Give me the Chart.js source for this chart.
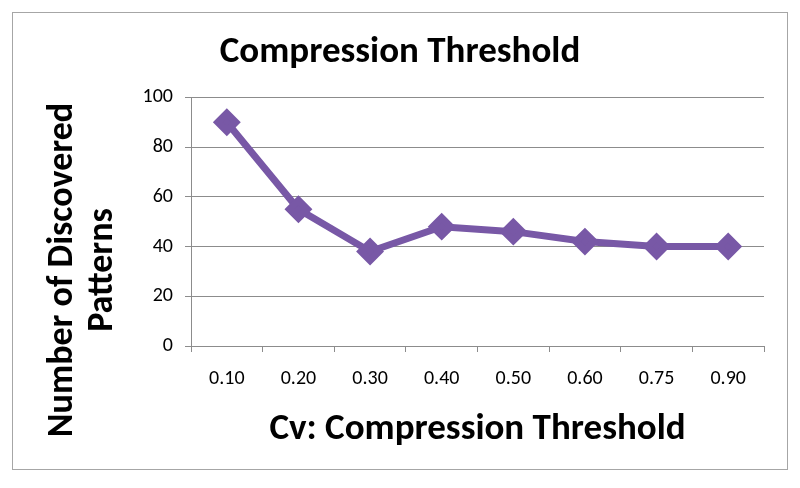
<!DOCTYPE html>
<html lang="en">
<head>
    <meta charset="UTF-8">
    <title>Compression Threshold</title>
    <script src="https://cdn.jsdelivr.net/npm/chart.js@4.4.1/dist/chart.umd.min.js"></script>
    <style>
        html, body { margin: 0; padding: 0; background: #fff; }
        .wrap { width: 800px; height: 488px; position: relative; }
    </style>
</head>
<body>
    <div class="wrap">
        <canvas id="cvChart" width="800" height="488"></canvas>
    </div>

    <script>
        // values
        const thresholds = ['0.10', '0.20', '0.30', '0.40', '0.50', '0.60', '0.75', '0.90'];
        const patternCounts = [90, 55, 38, 48, 46, 42, 40, 40];
        const yTicks = [0, 20, 40, 60, 80, 100];
        const yTitleLines = ['Number of Discovered', 'Patterns'];

        const fontFamily = 'Carlito, Lato, "Open Sans", sans-serif';
        const purple = '#7858a6';
        const gridGray = '#8c8c8c';

        // outer frame + rotated two-line y title (sits lower than the plot centre in the original)
        const framePlugin = {
            id: 'frame',
            afterDraw(chart) {
                const ctx = chart.ctx;
                ctx.save();
                ctx.strokeStyle = '#a6a6a6';
                ctx.lineWidth = 1;
                ctx.strokeRect(12.5, 12.5, 775, 457);

                ctx.translate(0, 270);
                ctx.rotate(-Math.PI / 2);
                ctx.fillStyle = '#000';
                ctx.font = 'bold 36px ' + fontFamily;
                ctx.textAlign = 'center';
                ctx.textBaseline = 'middle';
                ctx.fillText(yTitleLines[0], 0, 63);
                ctx.fillText(yTitleLines[1], 0, 103);
                ctx.restore();
            }
        };

        const ctx = document.getElementById('cvChart').getContext('2d');
        const chart = new Chart(ctx, {
            type: 'line',
            data: {
                labels: thresholds,
                datasets: [{
                    data: patternCounts,
                    borderColor: purple,
                    backgroundColor: purple,
                    borderWidth: 7,
                    pointStyle: 'rectRot',
                    pointRadius: 9,
                    pointHoverRadius: 9,
                    tension: 0
                }]
            },
            options: {
                responsive: false,
                animation: false,
                layout: { padding: 0 },
                plugins: {
                    legend: { display: false },
                    tooltip: { enabled: false },
                    title: {
                        display: true,
                        text: 'Compression Threshold',
                        color: '#000',
                        font: { family: fontFamily, size: 37, weight: 'bold' },
                        padding: { top: 31, bottom: 22 }
                    }
                },
                scales: {
                    x: {
                        offset: true,
                        afterFit: (scale) => { scale.height = 142; },
                        grid: {
                            offset: true,
                            drawOnChartArea: false,
                            color: gridGray,
                            tickLength: 6
                        },
                        border: { color: gridGray },
                        ticks: {
                            color: '#000',
                            padding: 15,
                            font: { family: fontFamily, size: 20 }
                        },
                        title: {
                            display: true,
                            text: 'Cv: Compression Threshold',
                            color: '#000',
                            font: { family: fontFamily, size: 37, weight: 'bold' },
                            padding: { top: 0, bottom: 36 }
                        }
                    },
                    y: {
                        min: 0,
                        max: 100,
                        afterFit: (scale) => { scale.width = 191; },
                        afterBuildTicks: (scale) => { scale.ticks = yTicks.map(v => ({ value: v })); },
                        grid: { color: gridGray, tickLength: 6 },
                        border: { color: gridGray },
                        ticks: {
                            color: '#000',
                            padding: 12,
                            font: { family: fontFamily, size: 20 }
                        }
                    },
                    // empty right-hand spacer so the title stays centred on the whole canvas
                    yRight: {
                        position: 'right',
                        min: 0,
                        max: 100,
                        afterFit: (scale) => { scale.width = 36; },
                        grid: { display: false },
                        border: { display: false },
                        ticks: { display: false }
                    }
                }
            },
            plugins: [framePlugin]
        });
    </script>
</body>
</html>
